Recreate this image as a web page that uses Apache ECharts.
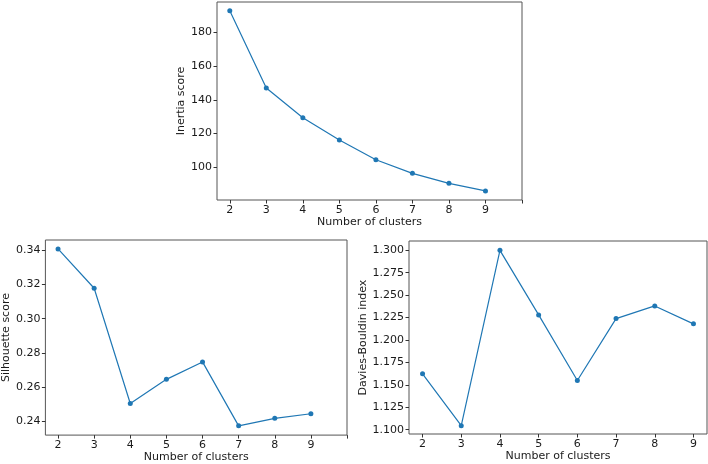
<!DOCTYPE html>
<html>
<head>
<meta charset="utf-8">
<script src="https://cdn.jsdelivr.net/npm/echarts@6/dist/echarts.min.js"></script>
<style>
    html, body { margin: 0; padding: 0; background: #fff; }
    #chart { width: 708px; height: 464px; }
</style>
</head>
<body>
<div id="chart"></div>
<script>
    // number of clusters on every x axis
    const clusters = [2, 3, 4, 5, 6, 7, 8, 9];
    const inertia = [192.8, 147.0, 129.4, 116.2, 104.5, 96.4, 90.5, 86.0];
    const silhouette = [0.3408, 0.3178, 0.2504, 0.2645, 0.2747, 0.2373, 0.2417, 0.2444];
    const daviesBouldin = [1.1623, 1.1045, 1.3000, 1.2280, 1.1549, 1.2239, 1.2380, 1.2180];

    const inertiaTicks = [100, 120, 140, 160, 180];
    const silhouetteTicks = [0.24, 0.26, 0.28, 0.30, 0.32, 0.34];
    const dbTicks = [1.100, 1.125, 1.150, 1.175, 1.200, 1.225, 1.250, 1.275, 1.300];
    const xTickLong = [2, 3, 4, 5, 6, 7, 8, 9, 10];

    const blue = '#1f77b4';
    const font = 'DejaVu Sans';
    const frame = '#555';

    function pairs(ys) {
        return clusters.map((c, i) => [c, ys[i]]);
    }

    function xAxis(idx, max, tickVals) {
        return {
            type: 'value', gridIndex: idx, min: 1.65, max: max,
            name: 'Number of clusters', nameLocation: 'middle', nameGap: 16,
            nameTextStyle: { fontFamily: font, fontSize: 11, color: '#1a1a1a' },
            axisLine: { show: false },
            splitLine: { show: false },
            axisTick: { show: true, length: 3.5, inside: false, customValues: tickVals, lineStyle: { color: '#333' } },
            axisLabel: { customValues: clusters, fontFamily: font, fontSize: 11, color: '#1a1a1a', margin: 5 }
        };
    }

    function yAxis(idx, name, min, max, ticks, digits, gap) {
        return {
            type: 'value', gridIndex: idx, min: min, max: max,
            name: name, nameLocation: 'middle', nameGap: gap,
            nameTextStyle: { fontFamily: font, fontSize: 11, color: '#1a1a1a' },
            axisLine: { show: false },
            splitLine: { show: false },
            axisTick: { show: true, length: 3.5, customValues: ticks, lineStyle: { color: '#333' } },
            axisLabel: {
                customValues: ticks, fontFamily: font, fontSize: 11, color: '#1a1a1a', margin: 5,
                formatter: v => v.toFixed(digits)
            }
        };
    }

    function line(idx, ys) {
        return {
            type: 'line', xAxisIndex: idx, yAxisIndex: idx,
            data: pairs(ys),
            symbol: 'circle', symbolSize: 5,
            itemStyle: { color: blue },
            lineStyle: { color: blue, width: 1.2 },
            animation: false
        };
    }

    const chart = echarts.init(document.getElementById('chart'));
    chart.setOption({
        backgroundColor: '#fff',
        animation: false,
        grid: [
            { left: 217, top: 2, width: 305, height: 198, show: true, borderColor: frame, borderWidth: 1 },
            { left: 43, top: 240, width: 304, height: 197, show: true, borderColor: frame, borderWidth: 1 },
            { left: 409, top: 241, width: 298, height: 193, show: true, borderColor: frame, borderWidth: 1 }
        ],
        xAxis: [
            xAxis(0, 10, xTickLong),
            xAxis(1, 10, xTickLong),
            xAxis(2, 9.35, clusters)
        ],
        yAxis: [
            yAxis(0, 'Inertia score', 80.6, 198, inertiaTicks, 0, 29),
            yAxis(1, 'Silhouette score', 0.2319, 0.346, silhouetteTicks, 2, 32),
            yAxis(2, 'Davies-Bouldin index', 1.0952, 1.3104, dbTicks, 3, 33)
        ],
        series: [
            line(0, inertia),
            line(1, silhouette),
            line(2, daviesBouldin)
        ]
    });
</script>
</body>
</html>
